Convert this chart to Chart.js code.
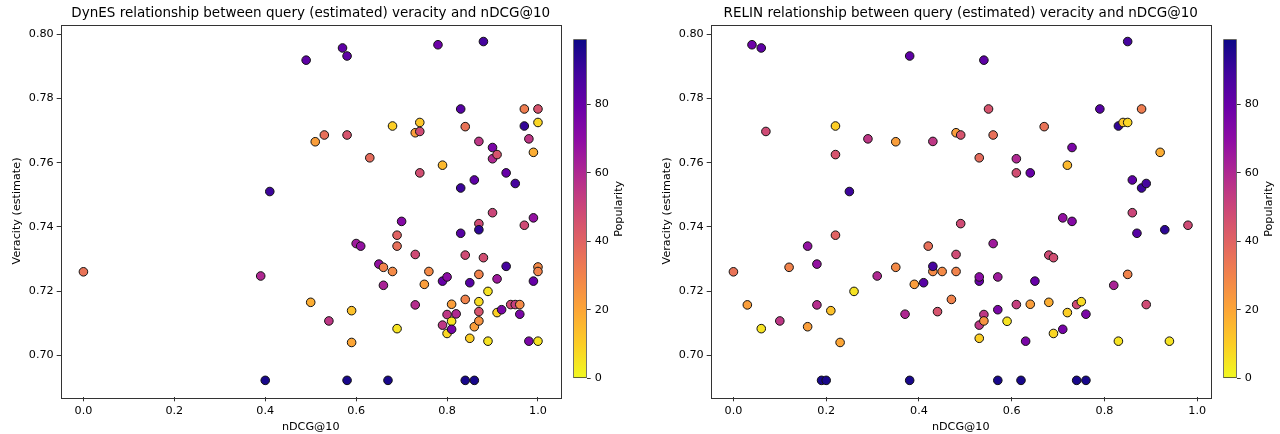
<!DOCTYPE html>
<html>
<head>
<meta charset="utf-8">
<title>Veracity vs nDCG@10</title>
<script src="https://cdn.jsdelivr.net/npm/chart.js@4.4.0/dist/chart.umd.min.js"></script>
<style>
    body { margin: 0; background: #ffffff; width: 1280px; height: 434px; overflow: hidden; position: relative; }
    .box { position: absolute; top: 0; height: 434px; }
    canvas { display: block; }
</style>
</head>
<body>
<div class="box" style="left:0;width:640px"><canvas id="dynes-chart" width="640" height="434"></canvas></div>
<div class="box" style="left:560px;width:80px"><canvas id="dynes-bar" width="80" height="434"></canvas></div>
<div class="box" style="left:650px;width:640px"><canvas id="relin-chart" width="640" height="434"></canvas></div>
<div class="box" style="left:1210px;width:80px"><canvas id="relin-bar" width="80" height="434"></canvas></div>
<script>
// Data
const dynesX = [0.00, 0.39, 0.40, 0.41, 0.49, 0.50, 0.51, 0.53, 0.54, 0.57, 0.58, 0.58, 0.58, 0.59, 0.59, 0.60, 0.61, 0.63, 0.65, 0.66,
    0.66, 0.67, 0.68, 0.68, 0.69, 0.69, 0.69, 0.70, 0.73, 0.73, 0.73, 0.74, 0.74, 0.74, 0.75, 0.76, 0.78, 0.79, 0.79, 0.79,
    0.80, 0.80, 0.80, 0.81, 0.81, 0.81, 0.82, 0.83, 0.83, 0.83, 0.84, 0.84, 0.84, 0.84, 0.85, 0.85, 0.86, 0.86, 0.86, 0.87,
    0.87, 0.87, 0.87, 0.87, 0.87, 0.87, 0.88, 0.88, 0.89, 0.89, 0.90, 0.90, 0.90, 0.91, 0.91, 0.91, 0.92, 0.93, 0.93, 0.94,
    0.95, 0.95, 0.96, 0.96, 0.97, 0.97, 0.97, 0.98, 0.98, 0.99, 0.99, 0.99, 1.00, 1.00, 1.00, 1.00, 1.00];
const dynesY = [0.7260, 0.7247, 0.6922, 0.7510, 0.7919, 0.7165, 0.7665, 0.7686, 0.7107, 0.7957, 0.7932, 0.7686, 0.6922, 0.7139, 0.7040, 0.7348, 0.7340, 0.7615, 0.7284, 0.7274,
    0.7218, 0.6922, 0.7714, 0.7261, 0.7374, 0.7340, 0.7083, 0.7417, 0.7314, 0.7157, 0.7693, 0.7725, 0.7697, 0.7568, 0.7221, 0.7261, 0.7967, 0.7592, 0.7231, 0.7094,
    0.7244, 0.7127, 0.7068, 0.7159, 0.7106, 0.7081, 0.7129, 0.7767, 0.7521, 0.7380, 0.7712, 0.7312, 0.7174, 0.6922, 0.7226, 0.7053, 0.7546, 0.7089, 0.6922, 0.7666,
    0.7410, 0.7391, 0.7252, 0.7167, 0.7136, 0.7107, 0.7977, 0.7304, 0.7199, 0.7044, 0.7647, 0.7612, 0.7444, 0.7625, 0.7238, 0.7133, 0.7142, 0.7568, 0.7277, 0.7158,
    0.7535, 0.7158, 0.7158, 0.7128, 0.7767, 0.7714, 0.7405, 0.7674, 0.7044, 0.7632, 0.7428, 0.7231, 0.7767, 0.7725, 0.7275, 0.7261, 0.7044];
const dynesPop = [35, 60, 97, 90, 82, 18, 22, 36, 55, 82, 82, 45, 97, 13, 20, 65, 68, 37, 68, 30,
    62, 97, 10, 28, 40, 36, 5, 72, 48, 58, 22, 12, 48, 47, 22, 28, 78, 15, 80, 55,
    70, 55, 8, 22, 5, 76, 60, 84, 90, 84, 35, 48, 30, 97, 84, 10, 82, 22, 97, 55,
    48, 93, 30, 7, 45, 25, 88, 47, 5, 5, 75, 60, 50, 45, 65, 10, 75, 80, 88, 48,
    88, 52, 28, 75, 32, 92, 48, 55, 75, 18, 68, 80, 45, 8, 28, 30, 5];

const relinX = [0.00, 0.03, 0.04, 0.06, 0.06, 0.07, 0.10, 0.12, 0.16, 0.16, 0.18, 0.18, 0.19, 0.20, 0.21, 0.22, 0.22, 0.22, 0.23, 0.25,
    0.26, 0.29, 0.31, 0.35, 0.35, 0.37, 0.38, 0.38, 0.39, 0.41, 0.42, 0.43, 0.43, 0.43, 0.44, 0.45, 0.47, 0.48, 0.48, 0.48,
    0.49, 0.49, 0.53, 0.53, 0.53, 0.53, 0.53, 0.54, 0.54, 0.54, 0.55, 0.56, 0.56, 0.57, 0.57, 0.57, 0.59, 0.61, 0.61, 0.61,
    0.62, 0.63, 0.64, 0.64, 0.65, 0.67, 0.68, 0.68, 0.69, 0.69, 0.71, 0.71, 0.72, 0.72, 0.73, 0.73, 0.74, 0.74, 0.75, 0.76,
    0.76, 0.79, 0.82, 0.83, 0.83, 0.84, 0.85, 0.85, 0.85, 0.86, 0.86, 0.87, 0.88, 0.88, 0.89, 0.89, 0.92, 0.93, 0.94, 0.98];
const relinY = [0.7260, 0.7157, 0.7967, 0.7957, 0.7083, 0.7697, 0.7107, 0.7274, 0.7340, 0.7089, 0.7284, 0.7157, 0.6922, 0.6922, 0.7139, 0.7714, 0.7625, 0.7374, 0.7040, 0.7510,
    0.7199, 0.7674, 0.7247, 0.7665, 0.7274, 0.7128, 0.7932, 0.6922, 0.7221, 0.7226, 0.7340, 0.7666, 0.7261, 0.7277, 0.7136, 0.7261, 0.7174, 0.7693, 0.7314, 0.7261,
    0.7686, 0.7410, 0.7615, 0.7231, 0.7244, 0.7094, 0.7053, 0.7919, 0.7127, 0.7107, 0.7767, 0.7686, 0.7348, 0.7244, 0.7142, 0.6922, 0.7106, 0.7612, 0.7568, 0.7158,
    0.6922, 0.7044, 0.7568, 0.7159, 0.7231, 0.7712, 0.7312, 0.7165, 0.7304, 0.7068, 0.7428, 0.7081, 0.7592, 0.7133, 0.7647, 0.7417, 0.7158, 0.6922, 0.7167, 0.7128,
    0.6922, 0.7767, 0.7218, 0.7714, 0.7044, 0.7725, 0.7725, 0.7977, 0.7252, 0.7546, 0.7444, 0.7380, 0.7767, 0.7521, 0.7535, 0.7158, 0.7632, 0.7391, 0.7044, 0.7405];
const relinPop = [35, 22, 78, 82, 5, 48, 55, 30, 68, 22, 68, 58, 97, 97, 13, 10, 45, 40, 20, 90,
    5, 55, 60, 22, 28, 60, 82, 97, 22, 84, 36, 55, 28, 88, 45, 28, 30, 22, 48, 30,
    45, 48, 37, 80, 70, 55, 10, 82, 55, 25, 45, 36, 65, 65, 75, 97, 5, 60, 47, 52,
    97, 75, 80, 22, 80, 35, 48, 18, 47, 8, 68, 76, 15, 10, 75, 72, 48, 97, 7, 75,
    97, 84, 62, 92, 5, 12, 8, 88, 30, 82, 50, 84, 32, 90, 88, 48, 18, 93, 5, 48];

// Tick labels and colour range
const xTicks = [0.0, 0.2, 0.4, 0.6, 0.8, 1.0];
const yTicks = [0.70, 0.72, 0.74, 0.76, 0.78, 0.80];
const popTicks = [0, 20, 40, 60, 80];
const popRange = [0, 99];

// Plasma colormap stops (t = 0..1)
const PLASMA = ['#0d0887', '#41049d', '#6a00a8', '#8f0da4', '#b12a90', '#cc4778',
    '#e16462', '#f2844b', '#fca636', '#fcce25', '#f0f921'];

const FONT = "'DejaVu Sans', sans-serif";
const EDGE = '#333333';

Chart.defaults.font.family = FONT;
Chart.defaults.color = '#000000';

// Colour helpers
function hexToRgb(hex) {
    const n = parseInt(hex.slice(1), 16);
    return [(n >> 16) & 255, (n >> 8) & 255, n & 255];
}

function plasma(t) {
    t = Math.min(1, Math.max(0, t));
    const pos = t * (PLASMA.length - 1);
    const i = Math.min(PLASMA.length - 2, Math.floor(pos));
    const f = pos - i;
    const a = hexToRgb(PLASMA[i]);
    const b = hexToRgb(PLASMA[i + 1]);
    const c = a.map((v, k) => Math.round(v + (b[k] - v) * f));
    return `rgb(${c[0]},${c[1]},${c[2]})`;
}

// plasma_r: low popularity = yellow, high = dark blue
function popColor(p) {
    return plasma(1 - (p - popRange[0]) / (popRange[1] - popRange[0]));
}

// 5% margins like matplotlib autoscale
function paddedRange(values) {
    const lo = Math.min(...values);
    const hi = Math.max(...values);
    const m = (hi - lo) * 0.05;
    return [lo - m, hi + m];
}

// Full box around the plot area
const framePlugin = {
    id: 'frame',
    afterDraw(chart) {
        const { ctx, chartArea } = chart;
        ctx.save();
        ctx.strokeStyle = EDGE;
        ctx.lineWidth = 1;
        ctx.strokeRect(Math.round(chartArea.left) + 0.5, Math.round(chartArea.top) + 0.5,
            Math.round(chartArea.right - chartArea.left), Math.round(chartArea.bottom - chartArea.top));
        ctx.restore();
    }
};

const tickFont = { family: FONT, size: 11.2 };

// Colorbar label, reading bottom to top
const barLabelPlugin = {
    id: 'barLabel',
    afterDraw(chart) {
        const { ctx, chartArea } = chart;
        ctx.save();
        ctx.translate(59.5, (chartArea.top + chartArea.bottom) / 2);
        ctx.rotate(-Math.PI / 2);
        ctx.font = `${tickFont.size}px ${FONT}`;
        ctx.fillStyle = '#000000';
        ctx.textAlign = 'center';
        ctx.textBaseline = 'middle';
        ctx.fillText('Popularity', 0, 0);
        ctx.restore();
    }
};

// Scatter panel
function createScatter(id, title, xs, ys, pops) {
    const [xMin, xMax] = paddedRange(xs);
    const [yMin, yMax] = paddedRange(ys);

    new Chart(document.getElementById(id), {
        type: 'scatter',
        data: {
            datasets: [{
                data: xs.map((x, i) => ({ x: x, y: ys[i] })),
                backgroundColor: pops.map(popColor),
                borderColor: '#111111',
                borderWidth: 1,
                pointRadius: 4.3,
                pointHoverRadius: 4.3
            }]
        },
        options: {
            responsive: false,
            animation: false,
            events: [],
            layout: { padding: { left: 0, right: 79.3, top: 0, bottom: 0 } },
            plugins: {
                legend: { display: false },
                tooltip: { enabled: false },
                title: {
                    display: true,
                    text: title,
                    fullSize: false,
                    color: '#000000',
                    font: { family: FONT, size: 13.5, weight: 'normal' },
                    padding: { top: 5.5, bottom: 2.9 }
                }
            },
            scales: {
                x: {
                    type: 'linear',
                    min: xMin,
                    max: xMax,
                    afterBuildTicks: scale => { scale.ticks = xTicks.map(v => ({ value: v })); },
                    afterFit: scale => { scale.height = 36.7; },
                    grid: { drawOnChartArea: false, drawTicks: true, tickLength: 4, color: EDGE },
                    border: { display: false },
                    ticks: { font: tickFont, padding: 3, maxRotation: 0, callback: v => v.toFixed(1) },
                    title: { display: true, text: 'nDCG@10', font: tickFont, padding: { top: 0, bottom: 0 } }
                },
                y: {
                    type: 'linear',
                    min: yMin,
                    max: yMax,
                    afterBuildTicks: scale => { scale.ticks = yTicks.map(v => ({ value: v })); },
                    afterFit: scale => { scale.width = 60.7; },
                    grid: { drawOnChartArea: false, drawTicks: true, tickLength: 4, color: EDGE },
                    border: { display: false },
                    ticks: { font: tickFont, padding: 3, callback: v => v.toFixed(2) },
                    title: { display: true, text: 'Veracity (estimate)', font: tickFont, padding: { top: 10, bottom: 0 } }
                }
            }
        },
        plugins: [framePlugin]
    });
}

// Colorbar panel
function createColorbar(id) {
    new Chart(document.getElementById(id), {
        type: 'bar',
        data: {
            labels: [''],
            datasets: [{
                data: [popRange],
                backgroundColor: context => {
                    const area = context.chart.chartArea;
                    if (!area) return PLASMA[5];
                    const g = context.chart.ctx.createLinearGradient(0, area.bottom, 0, area.top);
                    for (let k = 0; k <= 20; k++) {
                        g.addColorStop(k / 20, plasma(1 - k / 20));
                    }
                    return g;
                },
                borderColor: EDGE,
                borderWidth: 1,
                borderSkipped: false,
                categoryPercentage: 1,
                barPercentage: 1
            }]
        },
        options: {
            responsive: false,
            animation: false,
            events: [],
            layout: { padding: { left: 13.3, right: 0, top: 39.3, bottom: 55.7 } },
            plugins: { legend: { display: false }, tooltip: { enabled: false } },
            scales: {
                x: { display: false },
                y: {
                    position: 'right',
                    min: popRange[0],
                    max: popRange[1],
                    afterBuildTicks: scale => { scale.ticks = popTicks.map(v => ({ value: v })); },
                    afterFit: scale => { scale.width = 53.3; },
                    grid: { drawOnChartArea: false, drawTicks: true, tickLength: 4, color: EDGE },
                    border: { display: false },
                    ticks: { font: tickFont, padding: 4 }
                }
            }
        },
        plugins: [barLabelPlugin]
    });
}

// Initialize charts
createScatter('dynes-chart', 'DynES relationship between query (estimated) veracity and nDCG@10', dynesX, dynesY, dynesPop);
createColorbar('dynes-bar');
createScatter('relin-chart', 'RELIN relationship between query (estimated) veracity and nDCG@10', relinX, relinY, relinPop);
createColorbar('relin-bar');
</script>
</body>
</html>
